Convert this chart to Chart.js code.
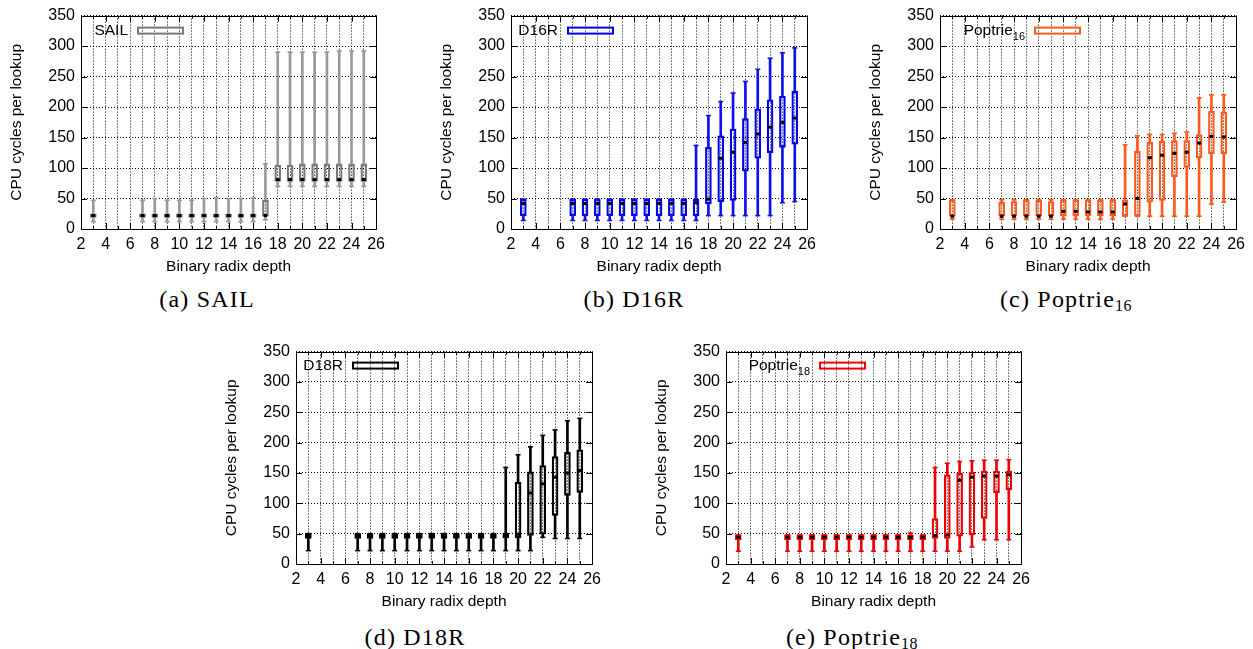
<!DOCTYPE html>
<html>
<head>
<meta charset="utf-8">
<script src="https://cdn.jsdelivr.net/npm/chart.js@4.4.1/dist/chart.umd.min.js"></script>
<style>
    body { margin: 0; background: #fff; width: 1253px; height: 649px; position: relative; overflow: hidden; }
    canvas { position: absolute; }
    .cap { position: absolute; font-family: "Liberation Serif", serif; font-size: 24px; line-height: 24px;
           letter-spacing: 1.2px; white-space: nowrap; transform: translateX(-50%); color: #000; }
    .cap sub { font-size: 16px; vertical-align: -4px; line-height: 0; letter-spacing: 0.5px; }
</style>
</head>
<body>
<canvas id="sailChart" width="391" height="274" style="left:0px;top:0px;width:391px;height:274px"></canvas>
<canvas id="d16rChart" width="392" height="274" style="left:430px;top:0px;width:392px;height:274px"></canvas>
<canvas id="p16Chart" width="392" height="274" style="left:859px;top:0px;width:392px;height:274px"></canvas>
<canvas id="d18rChart" width="392" height="273" style="left:215px;top:336px;width:392px;height:273px"></canvas>
<canvas id="p18Chart" width="391" height="273" style="left:645px;top:336px;width:391px;height:273px"></canvas>

<div class="cap" style="left:207px;top:287px">(a) SAIL</div>
<div class="cap" style="left:634px;top:287px">(b) D16R</div>
<div class="cap" style="left:1066px;top:287px">(c) Poptrie<sub>16</sub></div>
<div class="cap" style="left:415px;top:625px">(d) D18R</div>
<div class="cap" style="left:852px;top:625px">(e) Poptrie<sub>18</sub></div>

<script>
// ===== DATA =====
// binary radix depth of each box
const depths = [3, 7, 8, 9, 10, 11, 12, 13, 14, 15, 16, 17, 18, 19, 20, 21, 22, 23, 24, 25];

// (a) SAIL
const sailMin = [12, 12, 12, 12, 12, 12, 12, 12, 12, 12, 12, 15, 70, 70, 70, 70, 70, 70, 70, 70];
const sailQ1  = [19, 19, 19, 19, 19, 19, 19, 19, 19, 19, 19, 22, 78, 78, 78, 78, 78, 78, 78, 78];
const sailMed = [22, 22, 22, 22, 22, 22, 22, 22, 22, 22, 22, 22, 81, 81, 81, 81, 81, 81, 81, 81];
const sailQ3  = [25, 25, 25, 25, 25, 25, 25, 25, 25, 25, 25, 48, 105, 105, 107, 107, 107, 107, 107, 107];
const sailMax = [47, 47, 50, 47, 47, 47, 50, 51, 50, 50, 51, 107, 290, 290, 290, 290, 290, 292, 292, 292];

// (b) D16R
const d16Min = [14, 14, 14, 14, 14, 14, 14, 14, 14, 14, 14, 14, 22, 22, 22, 22, 22, 22, 43, 45];
const d16Q1  = [22, 22, 22, 22, 22, 22, 22, 22, 22, 22, 22, 22, 41, 45, 47, 95, 116, 125, 134, 139];
const d16Med = [42, 42, 42, 42, 42, 42, 42, 42, 42, 42, 42, 43, 49, 116, 126, 142, 156, 167, 175, 182];
const d16Q3  = [49, 49, 49, 49, 49, 49, 49, 49, 49, 49, 49, 49, 134, 153, 164, 181, 197, 212, 218, 226];
const d16Max = [49, 49, 49, 49, 49, 49, 49, 49, 49, 49, 49, 137, 186, 209, 223, 242, 262, 280, 289, 297];

// (c) Poptrie16
const p16Min = [16, 16, 16, 16, 16, 16, 16, 16, 16, 16, 16, 21, 21, 21, 21, 21, 21, 21, 41, 44];
const p16Q1  = [21, 22, 22, 22, 22, 22, 22, 22, 22, 22, 22, 21, 21, 44, 47, 86, 101, 117, 123, 123];
const p16Med = [21, 21, 21, 21, 21, 21, 29, 29, 28, 28, 28, 41, 50, 117, 121, 124, 126, 141, 152, 151];
const p16Q3  = [48, 44, 45, 48, 47, 45, 48, 48, 48, 48, 48, 48, 128, 142, 144, 145, 145, 155, 193, 192];
const p16Max = [48, 48, 48, 48, 48, 48, 48, 48, 48, 48, 48, 138, 153, 155, 155, 157, 159, 215, 220, 220];

// (d) D18R
const d18Min = [22, 22, 22, 22, 22, 22, 22, 22, 22, 22, 22, 22, 22, 22, 22, 22, 44, 42, 42, 42];
const d18Q1  = [42, 42, 42, 42, 42, 42, 42, 42, 42, 42, 42, 42, 42, 43, 43, 47, 49, 80, 113, 118];
const d18Med = [46, 46, 46, 46, 46, 46, 46, 46, 46, 46, 46, 46, 46, 46, 49, 117, 132, 143, 150, 154];
const d18Q3  = [50, 50, 50, 50, 50, 50, 50, 50, 50, 50, 50, 50, 50, 51, 135, 152, 162, 177, 184, 188];
const d18Max = [50, 50, 50, 50, 50, 50, 50, 50, 50, 50, 50, 50, 50, 159, 180, 193, 212, 221, 236, 240];

// (e) Poptrie18
const p18Min = [21, 21, 21, 21, 21, 21, 21, 21, 21, 21, 21, 21, 21, 21, 21, 21, 28, 40, 40, 40];
const p18Q1  = [40, 40, 40, 40, 40, 40, 40, 40, 40, 40, 40, 40, 40, 42, 42, 46, 48, 75, 117, 122];
const p18Med = [44, 44, 44, 44, 44, 44, 44, 44, 44, 44, 44, 44, 44, 47, 48, 138, 143, 145, 145, 147];
const p18Q3  = [48, 48, 48, 48, 48, 48, 48, 48, 48, 48, 48, 48, 48, 75, 147, 150, 151, 153, 153, 153];
const p18Max = [48, 48, 48, 48, 48, 48, 48, 48, 48, 48, 48, 51, 48, 159, 166, 169, 170, 171, 171, 172];

// axis ranges
const xMin = 2, xMax = 26, xLabelStep = 2;
const yMin = 0, yMax = 350, yStep = 50;

// ===== SETUP =====
Chart.defaults.font.family = '"Liberation Sans", Arial, sans-serif';
Chart.defaults.font.size = 16;
Chart.defaults.color = '#000';

const AXIS_FONT = '15.5px "Liberation Sans", Arial, sans-serif';

/**
 * Builds one gnuplot-looking box plot panel
 */
function makePanel(canvasId, st, look) {
    const pairs = (a, b) => depths.map((d, i) => ({ x: d, y: [a[i], b[i]] }));

    // caps, medians, frame, legend and axis titles in gnuplot style
    const gnuplotLook = {
        id: 'gnuplotLook',
        afterDatasetsDraw(chart) {
            const { ctx } = chart;
            const xs = chart.scales.x, ys = chart.scales.y;
            ctx.save();
            depths.forEach((d, i) => {
                const px = xs.getPixelForValue(d);
                ctx.strokeStyle = look.whisker;
                ctx.lineWidth = 1.6;
                [st.min[i], st.max[i]].forEach(v => {
                    const py = ys.getPixelForValue(v);
                    ctx.beginPath();
                    ctx.moveTo(px - 2.5, py);
                    ctx.lineTo(px + 2.5, py);
                    ctx.stroke();
                });
                const pm = ys.getPixelForValue(st.med[i]);
                ctx.fillStyle = '#000';
                ctx.fillRect(px - 2, pm - 1.5, 4, 3);
            });
            ctx.restore();
        },
        afterDraw(chart) {
            const { ctx, chartArea: a } = chart;
            const xs = chart.scales.x, ys = chart.scales.y;
            ctx.save();
            ctx.strokeStyle = '#000';
            ctx.lineWidth = 1;
            ctx.strokeRect(Math.round(a.left) + 0.5, Math.round(a.top) + 0.5,
                Math.round(a.right - a.left), Math.round(a.bottom - a.top));

            // inward ticks, mirrored
            ctx.beginPath();
            for (let v = yMin; v <= yMax; v += yStep) {
                const py = Math.round(ys.getPixelForValue(v)) + 0.5;
                ctx.moveTo(a.left, py); ctx.lineTo(a.left + 6, py);
                ctx.moveTo(a.right, py); ctx.lineTo(a.right - 6, py);
            }
            for (let v = xMin; v <= xMax; v += 1) {
                const px = Math.round(xs.getPixelForValue(v)) + 0.5;
                const len = v % xLabelStep === 0 ? 6 : 3;
                ctx.moveTo(px, a.bottom); ctx.lineTo(px, a.bottom - len);
                ctx.moveTo(px, a.top); ctx.lineTo(px, a.top + len);
            }
            ctx.stroke();

            // key
            const kx = a.left + look.keyX, ky = a.top + look.keyY;
            ctx.strokeStyle = look.color;
            ctx.lineWidth = 2;
            ctx.strokeRect(kx, ky, 45, 6);
            ctx.fillStyle = '#000';
            ctx.textBaseline = 'middle';
            ctx.font = AXIS_FONT;
            let right = kx - 10;
            if (look.sub) {
                ctx.font = '11px "Liberation Sans", Arial, sans-serif';
                const sw = ctx.measureText(look.sub).width;
                ctx.textAlign = 'left';
                ctx.fillText(look.sub, right - sw, ky + 9);
                right -= sw;
                ctx.font = AXIS_FONT;
            }
            ctx.textAlign = 'right';
            ctx.fillText(look.label, right, ky + 3);

            // axis titles
            ctx.textAlign = 'center';
            ctx.fillText('Binary radix depth', (a.left + a.right) / 2, a.bottom + 38);
            ctx.translate(a.left - 64, (a.top + a.bottom) / 2);
            ctx.rotate(-Math.PI / 2);
            ctx.fillText('CPU cycles per lookup', 0, 0);
            ctx.restore();
        }
    };

    const gridStyle = { color: '#000', lineWidth: 1, drawTicks: false, offset: false };

    return new Chart(document.getElementById(canvasId), {
        type: 'bar',
        data: {
            datasets: [
                { data: pairs(st.min, st.q1), backgroundColor: look.whisker, barThickness: 2, grouped: false },
                { data: pairs(st.q3, st.max), backgroundColor: look.whisker, barThickness: 2, grouped: false },
                { data: pairs(st.q1, st.q3), backgroundColor: 'rgba(255,255,255,0)', borderColor: look.color,
                  borderWidth: 1.6, borderSkipped: false, barThickness: 6, grouped: false }
            ]
        },
        options: {
            responsive: false,
            animation: false,
            layout: { padding: { left: 0, top: 15, right: 12, bottom: 0 } },
            plugins: { legend: { display: false }, tooltip: { enabled: false } },
            scales: {
                x: {
                    type: 'linear', min: xMin, max: xMax, offset: false,
                    grid: gridStyle,
                    border: { display: false, dash: [1, 2] },
                    ticks: {
                        stepSize: 1, autoSkip: false, maxRotation: 0, padding: 6,
                        callback: v => (v % xLabelStep === 0 ? v : '')
                    },
                    afterFit: s => { s.height = 45; }
                },
                y: {
                    min: yMin, max: yMax,
                    grid: gridStyle,
                    border: { display: false, dash: [1, 2] },
                    ticks: { stepSize: yStep, padding: 6 },
                    afterFit: s => { s.width = 81; }
                }
            }
        },
        plugins: [gnuplotLook]
    });
}

// ===== INIT =====
makePanel('sailChart',
    { min: sailMin, q1: sailQ1, med: sailMed, q3: sailQ3, max: sailMax },
    { color: '#7a7a7a', whisker: '#999999', label: 'SAIL', keyX: 57, keyY: 12 });
makePanel('d16rChart',
    { min: d16Min, q1: d16Q1, med: d16Med, q3: d16Q3, max: d16Max },
    { color: '#0000ee', whisker: '#1010ee', label: 'D16R', keyX: 57, keyY: 12 });
makePanel('p16Chart',
    { min: p16Min, q1: p16Q1, med: p16Med, q3: p16Q3, max: p16Max },
    { color: '#ff5a1c', whisker: '#ff5a1c', label: 'Poptrie', sub: '16', keyX: 95, keyY: 12 });
makePanel('d18rChart',
    { min: d18Min, q1: d18Q1, med: d18Med, q3: d18Q3, max: d18Max },
    { color: '#000000', whisker: '#000000', label: 'D18R', keyX: 57, keyY: 11 });
makePanel('p18Chart',
    { min: p18Min, q1: p18Q1, med: p18Med, q3: p18Q3, max: p18Max },
    { color: '#ee0000', whisker: '#ee0000', label: 'Poptrie', sub: '18', keyX: 94, keyY: 11 });
</script>
</body>
</html>
